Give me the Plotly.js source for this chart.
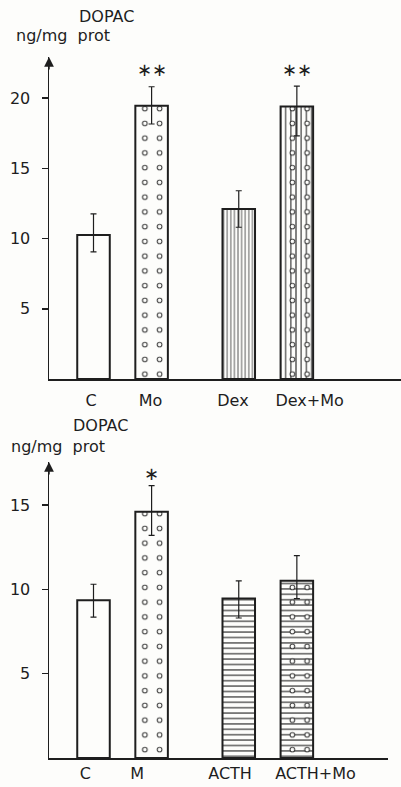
<!DOCTYPE html>
<html>
<head>
<meta charset="utf-8">
<script src="https://cdn.plot.ly/plotly-3.0.1.min.js"></script>
<style>
  html, body { margin: 0; padding: 0; background: #fdfdfb; }
  #chart { width: 401px; height: 787px; }
</style>
</head>
<body>
<div id="chart"></div>
<script>
// ---- data ----
const catsTop   = ['C', 'Mo', 'Dex', 'Dex+Mo'];
const valsTop   = [10.25, 19.45, 12.1, 19.4];
const errUpTop  = [1.5, 1.35, 1.3, 1.45];
const errDnTop  = [1.2, 1.3, 1.3, 2.1];
const sigTop    = ['', '∗∗', '', '∗∗'];

const catsBot   = ['C', 'M', 'ACTH', 'ACTH+Mo'];
const valsBot   = [9.35, 14.6, 9.45, 10.5];
const errUpBot  = [0.95, 1.55, 1.05, 1.5];
const errDnBot  = [1.0, 1.4, 1.15, 1.05];
const sigBot    = ['', '∗', '', ''];

const ticksTop  = [5, 10, 15, 20];
const ticksBot  = [5, 10, 15];
const yTitle1   = 'DOPAC';
const yTitle2   = 'ng/mg\u00a0\u00a0prot';

// slot order of the bars on the x axis (two groups of two)
const slots = [0, 1, 2.5, 3.5];

// ---- styles / layout constants ----
const INK = '#1e1e1e';
const BG = '#fdfdfb';
const FONT = 'DejaVu Sans';
const BARW = 0.56;
// label nudges (in slot units) to follow the hand-lettered placement of the original
const labelNudgeTop = [-0.04, -0.02, -0.10, 0.22];
const labelNudgeBot = [-0.14, -0.25, -0.15, 0.32];

function panelTraces(vals, up, dn, lineShape, lineSize, xa, ya) {
  const common = { x: slots, y: vals, width: BARW, type: 'bar', xaxis: xa, yaxis: ya,
                   hoverinfo: 'skip', showlegend: false };
  const base = Object.assign({}, common, {
    marker: { color: BG, line: { width: 0 },
      pattern: { shape: ['', '', lineShape, lineShape], fgcolor: INK, bgcolor: BG,
                 size: lineSize, solidity: 0.2, fillmode: 'replace' } }
  });
  const dotsOuter = Object.assign({}, common, {
    marker: { color: 'rgba(0,0,0,0)', line: { width: 0 },
      pattern: { shape: ['', '.', '', '.'], fgcolor: INK, bgcolor: 'rgba(0,0,0,0)',
                 size: 14.75, solidity: 0.112, fillmode: 'replace' } }
  });
  const dotsInner = Object.assign({}, common, {
    marker: { color: 'rgba(0,0,0,0)', line: { width: 0 },
      pattern: { shape: ['', '.', '', '.'], fgcolor: BG, bgcolor: 'rgba(0,0,0,0)',
                 size: 14.75, solidity: 0.05, fillmode: 'replace' } }
  });
  const outline = Object.assign({}, common, {
    marker: { color: 'rgba(0,0,0,0)', line: { color: INK, width: 2 } },
    error_y: { type: 'data', symmetric: false, array: up, arrayminus: dn,
               color: INK, thickness: 1.2, width: 3 }
  });
  return [base, dotsOuter, dotsInner, outline];
}

const data = [].concat(
  panelTraces(valsTop, errUpTop, errDnTop, '|', [4, 4, 3.6, 5.2], 'x', 'y'),
  panelTraces(valsBot, errUpBot, errDnBot, '-', [5.4, 5.4, 5.4, 5.4], 'x2', 'y2')
);

const W = 401, H = 787;
const px = v => v / W;
const py = v => 1 - v / H;

const unit = 58.1;
const x0 = -0.766;
const xRangeTop = [x0, x0 + (W - 49) / unit];
const xRangeBot = [x0, x0 + (388 - 49) / unit];

const yAxisCommon = {
  showline: true, linecolor: INK, linewidth: 1.5,
  ticks: 'outside', ticklen: 6, tickwidth: 1.5, tickcolor: INK,
  showgrid: false, zeroline: false, automargin: false,
  tickfont: { family: FONT, size: 16, color: INK }, ticklabelstandoff: 8,
  fixedrange: true
};
const xAxisCommon = {
  showline: true, linecolor: INK, linewidth: 1.5, ticks: '',
  showgrid: false, zeroline: false, automargin: false, tickangle: 0,
  tickfont: { family: FONT, size: 16, color: INK },
  fixedrange: true
};

const annotations = [];
function addTitles(yTop, yBot, xTop, xBot) {
  annotations.push({ xref: 'paper', yref: 'paper', x: px(xTop), y: py(yTop), text: yTitle1,
    showarrow: false, xanchor: 'center', yanchor: 'middle', font: { family: FONT, size: 16, color: INK } });
  annotations.push({ xref: 'paper', yref: 'paper', x: px(xBot), y: py(yBot), text: yTitle2,
    showarrow: false, xanchor: 'center', yanchor: 'middle', font: { family: FONT, size: 16, color: INK } });
}
addTitles(17, 35, 107, 63);
addTitles(425, 447, 100, 57.5);

function addArrow(xr, yr) {
  annotations.push({ xref: xr + ' domain', yref: yr + ' domain', x: 0, y: 1, text: '',
    showarrow: true, ax: 0, ay: 14, axref: 'pixel', ayref: 'pixel',
    arrowhead: 2, arrowsize: 1.3, arrowwidth: 1.5, arrowcolor: INK, standoff: 0 });
}
addArrow('x', 'y');
addArrow('x2', 'y2');

function addSig(sig, vals, up, xr, yr, shift) {
  sig.forEach((s, i) => {
    if (!s) return;
    annotations.push({ xref: xr, yref: yr, x: slots[i], y: vals[i] + up[i], text: s,
      showarrow: false, xanchor: 'center', yanchor: 'middle', yshift: shift,
      font: { family: FONT, size: 18, color: INK } });
  });
}
addSig(sigTop, valsTop, errUpTop, 'x', 'y', 17);
addSig(sigBot, valsBot, errUpBot, 'x2', 'y2', 12);

const layout = {
  width: W, height: H,
  margin: { l: 0, r: 0, t: 0, b: 0, pad: 0 },
  paper_bgcolor: BG, plot_bgcolor: 'rgba(0,0,0,0)',
  barmode: 'overlay',
  showlegend: false,
  font: { family: FONT, size: 16, color: INK },
  xaxis: Object.assign({}, xAxisCommon, { domain: [px(49), 1], range: xRangeTop,
    tickvals: slots.map((s, i) => s + labelNudgeTop[i]),
    ticktext: catsTop, anchor: 'y', ticklabelstandoff: 6 }),
  yaxis: Object.assign({}, yAxisCommon, { domain: [py(379), py(57)], range: [0, 322 / 14.05],
    tickvals: ticksTop, anchor: 'x' }),
  xaxis2: Object.assign({}, xAxisCommon, { domain: [px(49), px(388)], range: xRangeBot,
    tickvals: slots.map((s, i) => s + labelNudgeBot[i]),
    ticktext: catsBot, anchor: 'y2', ticklabelstandoff: 0 }),
  yaxis2: Object.assign({}, yAxisCommon, { domain: [py(758), py(462)], range: [0, 296 / 16.87],
    tickvals: ticksBot, anchor: 'x2' }),
  annotations: annotations
};

Plotly.newPlot('chart', data, layout, { displayModeBar: false, staticPlot: true });
</script>
</body>
</html>
